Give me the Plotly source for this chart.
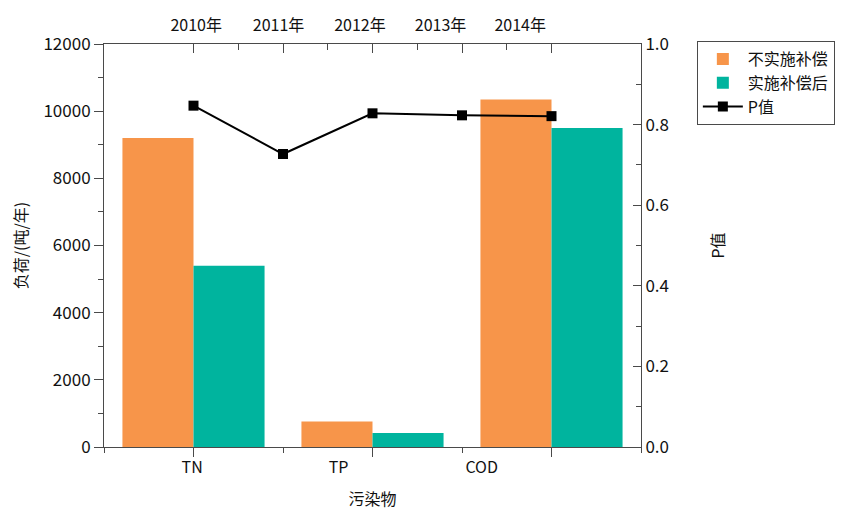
import plotly.graph_objects as go

# ---------------- data ----------------
categories = ["TN", "TP", "COD"]
no_comp = [9200, 760, 10350]        # 不实施补偿
with_comp = [5400, 420, 9500]       # 实施补偿后
years = ["2010年", "2011年", "2012年", "2013年", "2014年"]
p_values = [0.847, 0.727, 0.828, 0.823, 0.821]

name_a = "不实施补偿"
name_b = "实施补偿后"
name_p = "P值"

# ---------------- layout constants ----------------
FONT = "Noto Sans CJK SC"
ORANGE = "#F7954A"
TEAL = "#00B49E"
AX = "#4a4a4a"
XR = [0, 6]
cat_x = [2 * i + 1 for i in range(len(categories))]
year_x = [i + 1 for i in range(len(years))]
cat_label_x = [0.985, 2.62, 4.22]
year_label_x = [1.03, 1.95, 2.86, 3.76, 4.65]

fig = go.Figure()
fig.add_trace(go.Bar(x=cat_x, y=no_comp, name=name_a, marker=dict(color=ORANGE, line=dict(width=0)),
                     xaxis="x", yaxis="y"))
fig.add_trace(go.Bar(x=cat_x, y=with_comp, name=name_b, marker=dict(color=TEAL, line=dict(width=0)),
                     xaxis="x", yaxis="y"))
fig.add_trace(go.Scatter(x=year_x, y=p_values, name=name_p, mode="lines+markers",
                         line=dict(color="black", width=2),
                         marker=dict(symbol="square", size=10, color="black"),
                         xaxis="x2", yaxis="y2"))
# invisible helper traces so the label-only overlay axes are drawn
for ax in ("x3", "x4"):
    fig.add_trace(go.Scatter(x=[XR[0]], y=[0], mode="markers", marker=dict(opacity=0),
                             showlegend=False, hoverinfo="skip", xaxis=ax, yaxis="y"))

tickfont = dict(family=FONT, size=16, color="#111111")

# page body has an 8px margin -> figure is 8px smaller and shifted
W, H = 849, 502
fig.update_layout(
    width=W, height=H,
    margin=dict(l=96, r=W - 633, t=36, b=H - 439, autoexpand=False),
    paper_bgcolor="white", plot_bgcolor="white",
    font=dict(family=FONT, size=16, color="#111111"),
    barmode="group", bargap=0.206, bargroupgap=0,
    showlegend=True,
    legend=dict(x=1.104, y=1.0074, xanchor="left", yanchor="top",
                bordercolor=AX, borderwidth=1, bgcolor="white",
                font=dict(family=FONT, size=16, color="#111111"),
                itemwidth=40, tracegroupgap=0),
    xaxis=dict(range=XR, showgrid=False, zeroline=False, showline=True, linecolor=AX, linewidth=1,
               tickmode="array", tickvals=cat_x, ticks="outside", ticklen=9, tickcolor=AX,
               showticklabels=False,
               minor=dict(tickmode="array", tickvals=[0, 2, 4, 6], ticks="outside", ticklen=5,
                          tickcolor=AX, showgrid=False)),
    xaxis3=dict(range=XR, overlaying="x", anchor="y", side="bottom", showgrid=False, zeroline=False,
                showline=False, tickmode="array", tickvals=cat_label_x, ticktext=categories,
                ticks="", tickfont=tickfont, ticklabelstandoff=9,
                title=dict(text="污染物", font=dict(family=FONT, size=16), standoff=16)),
    xaxis2=dict(range=XR, overlaying="x", anchor="y", side="top", showgrid=False, zeroline=False,
                showline=True, linecolor=AX, linewidth=1,
                tickmode="array", tickvals=year_x, ticks="inside", ticklen=9, tickcolor=AX,
                showticklabels=False,
                minor=dict(tickmode="array", tickvals=[1.5, 2.5, 3.5, 4.5], ticks="inside",
                           ticklen=6, tickcolor=AX, showgrid=False)),
    xaxis4=dict(range=XR, overlaying="x", anchor="y", side="top", showgrid=False, zeroline=False,
                showline=False, tickmode="array", tickvals=year_label_x, ticktext=years,
                ticks="", tickfont=dict(family=FONT, size=16, color="#111111"), ticklabelstandoff=9),
    yaxis=dict(range=[0, 12000], showgrid=False, zeroline=False, showline=True, linecolor=AX,
               linewidth=1, tickmode="linear", tick0=0, dtick=2000, tickformat="d",
               ticks="outside", ticklen=9, tickcolor=AX, tickfont=dict(family=FONT, size=17, color="#111111"),
               minor=dict(dtick=1000, ticks="outside", ticklen=5, tickcolor=AX, showgrid=False),
               title=dict(text="负荷/(吨/年)", font=dict(family=FONT, size=16), standoff=12)),
    yaxis2=dict(range=[0, 1], overlaying="y", side="right", anchor="x", showgrid=False,
                zeroline=False, showline=True, linecolor=AX, linewidth=1,
                tickmode="linear", tick0=0, dtick=0.2, tickformat=".1f", ticks="inside",
                ticklen=8, tickcolor=AX, tickfont=dict(family=FONT, size=17, color="#111111"),
                minor=dict(dtick=0.1, ticks="inside", ticklen=5, tickcolor=AX, showgrid=False),
                title=dict(text="P值", font=dict(family=FONT, size=16), standoff=44)),
)

fig.write_html("out.html")
